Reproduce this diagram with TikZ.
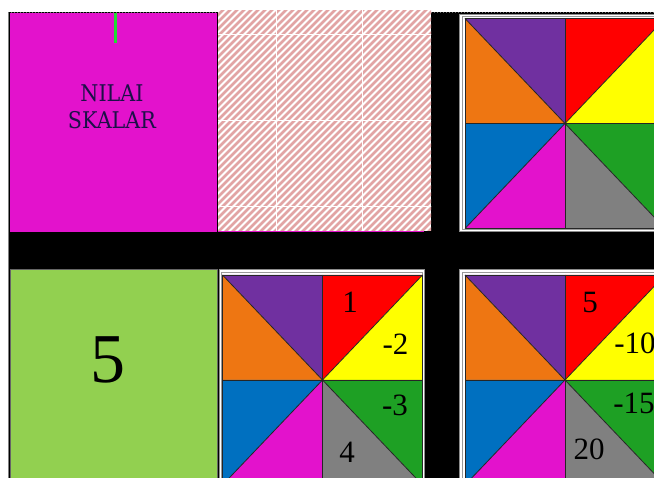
\documentclass[tikz,border=0pt]{standalone}
\usepackage{fontspec}
\setmainfont{Liberation Serif}
\newfontfamily\slab{DejaVu Serif}
\definecolor{cPurple}{HTML}{7030A0}
\definecolor{cOrange}{HTML}{EE7612}
\definecolor{cRed}{HTML}{FF0000}
\definecolor{cYellow}{HTML}{FFFF00}
\definecolor{cBlue}{HTML}{0070C0}
\definecolor{cMag}{HTML}{E312CC}
\definecolor{cGrey}{HTML}{808080}
\definecolor{cGreen}{HTML}{1EA024}
\definecolor{cLime}{HTML}{92D050}
\definecolor{cStripe}{HTML}{E2A4A4}
\definecolor{cInk}{HTML}{1C1048}
\definecolor{cTick}{HTML}{22DD33}
\tikzset{
  tri/.style={draw=black!85, line width=0.8pt, line join=round},
  frame/.style={fill=white, draw=black!45, line width=0.6pt},
  num/.style={inner sep=0pt, font=\fontsize{31}{31}\selectfont},
  pinwheel/.pic={
    \fill[cPurple] (-100,-105) -- (0,-105) -- (0,0) -- cycle;
    \fill[cOrange] (-100,-105) -- (0,0) -- (-100,0) -- cycle;
    \fill[cRed] (0,-105) -- (100,-105) -- (0,0) -- cycle;
    \fill[cYellow] (100,-105) -- (100,0) -- (0,0) -- cycle;
    \fill[cGreen] (0,0) -- (100,0) -- (100,105) -- cycle;
    \fill[cGrey] (0,0) -- (100,105) -- (0,105) -- cycle;
    \fill[cMag] (0,0) -- (0,105) -- (-100,105) -- cycle;
    \fill[cBlue] (0,0) -- (-100,105) -- (-100,0) -- cycle;
    \draw[tri] (-100,-105) rectangle (100,105);
    \draw[tri] (-100,0) -- (100,0) (0,-105) -- (0,105);
    \draw[tri] (-100,-105) -- (0,0) -- (100,-105);
    \draw[tri] (-100,105) -- (0,0) -- (100,105);
  }
}
\begin{document}
\begin{tikzpicture}[x=1pt,y=-1pt]
\useasboundingbox (0,0) rectangle (654,478);
\begin{scope}
\clip (0,0) rectangle (654,478);
% background
\fill[white] (0,0) rectangle (654,478);
\fill[black] (9,12.5) rectangle (660,480);
\draw[black!50, line width=1pt] (8.5,12) -- (8.5,480);
\draw[black!55, dotted, line width=1pt] (8,12.5) -- (654,12.5);
% magenta box
\fill[cMag] (10,13) rectangle (217,232);
\draw[cTick, line width=3pt] (115,13) -- (115,43);
\node[inner sep=0pt, align=center, text=cInk, font=\slab\fontsize{23}{27}\selectfont] (scalar) at (112,106.5) {\scalebox{0.9}[1]{NILAI}\\\scalebox{0.9}[1]{SKALAR}};
% hatch
\begin{scope}
\clip (218,11) rectangle (431,230.5);
\fill[white] (218,11) rectangle (431,231);
\foreach \i in {-260,-253,...,460} {
  \draw[cStripe, line width=2.6pt] (218+\i,240) -- ++(240,-240);
}
\draw[white, line width=0.7pt] (276,0) -- (276,240) (362,0) -- (362,240)
  (200,34) -- (440,34) (200,120) -- (440,120) (200,206) -- (440,206);
\end{scope}
\draw[cMag, line width=1.5pt] (218,231.5) -- (424,231.5);
% top right frame and pinwheel
\draw[frame] (459.5,14) rectangle (670,231.5);
\draw[black!40, line width=0.6pt] (462.3,16.3) rectangle (670,229.3);
\pic at (565,123.5) {pinwheel};
% green box
\fill[cLime] (10,269.5) rectangle (217.5,480);
\draw[black!60, line width=0.6pt] (10,480) -- (10,269.5) -- (217.5,269.5) -- (217.5,480);
\node[inner sep=0pt, font=\fontsize{70}{70}\selectfont] (five) at (108,360) {5};
% bottom middle
\draw[frame] (219.5,269.5) rectangle (424,490);
\draw[black!40, line width=0.6pt] (221.5,272) rectangle (422,490);
\pic at (322.5,380) {pinwheel};
\node[num] (a1) at (350,302) {1};
\node[num] (a2) at (395.5,344) {-2};
\node[num] (a3) at (395,405) {-3};
\node[num] (a4) at (347,452.5) {4};
% bottom right
\draw[frame] (459.5,269.5) rectangle (670,490);
\draw[black!40, line width=0.6pt] (462.3,272) rectangle (670,490);
\pic at (565,380) {pinwheel};
\node[num] (b1) at (590,303) {5};
\node[num] (b2) at (635,343) {-10};
\node[num] (b3) at (634,403) {-15};
\node[num] (b4) at (589,449) {20};
\end{scope}
\end{tikzpicture}
\end{document}
